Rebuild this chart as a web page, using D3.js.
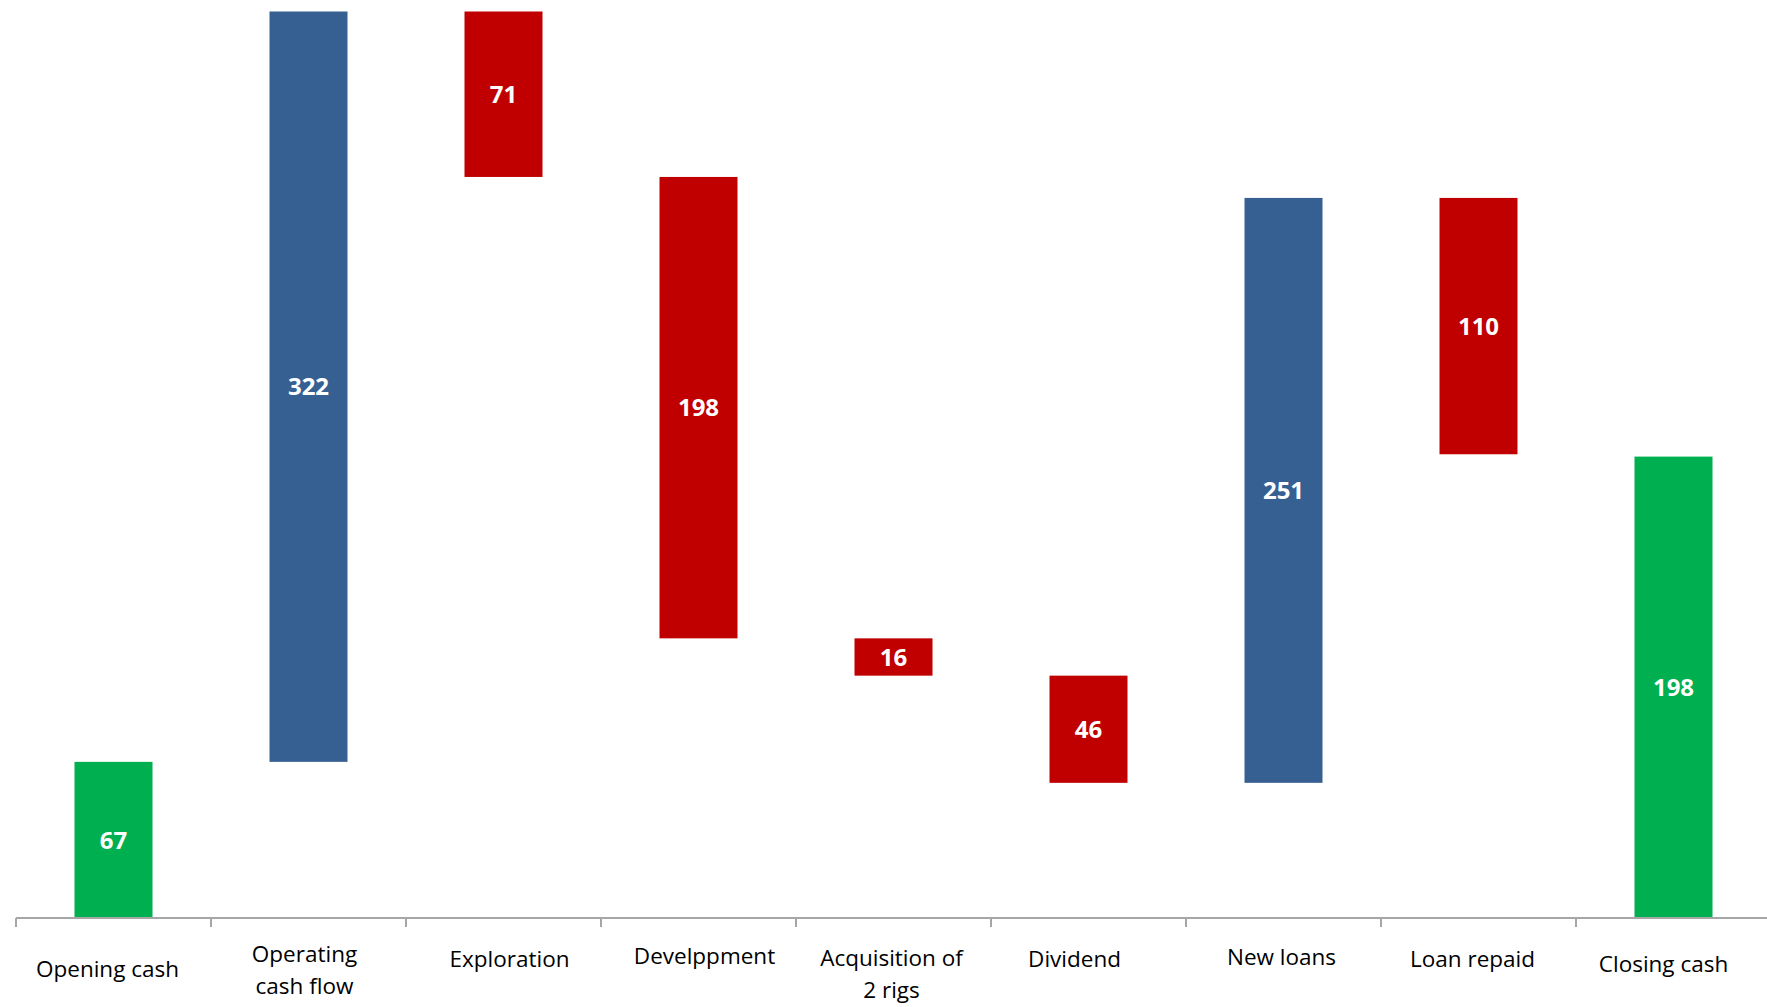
<!DOCTYPE html>
<html>
<head>
<meta charset="utf-8">
<script src="https://cdn.jsdelivr.net/npm/d3@7"></script>
<style>
  body { margin: 0; background: #fff; }
  svg { display: block; }
</style>
</head>
<body>
<svg class="chart"></svg>
<script>
// Categories (line breaks as in the original labels)
var categories = ["Opening cash", "Operating|cash flow", "Exploration", "Develppment",
                  "Acquisition of|2 rigs", "Dividend", "New loans", "Loan repaid", "Closing cash"];
// Signed movements; first and last are totals
var values = [67, 322, -71, -198, -16, -46, 251, -110, 198];
var kinds = ["total", "up", "down", "down", "down", "down", "up", "down", "total"];

// Label nudges relative to the band centre (layout only)
var labelDx = [-6, -4, 6, 6, -2, -14, -2, -6, -10];
var labelDy = [10, -4, 0, -3, 0, 0, -2, 0, 5];

(function(){
    var w = 1767, h = 1007;
    var baseY = 918;
    var colors = {total: "#00b050", up: "#366092", down: "#c00000"};

    var svg = d3.select(".chart").attr("width", w).attr("height", h);

    //Build the floating ranges
    var run = 0, bars = [];
    values.forEach(function(v, i){
        var lo, hi;
        if (kinds[i] == "total") { lo = 0; hi = v; run = v; }
        else if (v >= 0) { lo = run; hi = run + v; run = hi; }
        else { hi = run; lo = run + v; run = lo; }
        bars.push({name: categories[i], value: Math.abs(v), lo: lo, hi: hi, kind: kinds[i], i: i});
    });

    var x = d3.scaleBand()
        .domain(categories)
        .range([16, 1771])
        .paddingInner(0.6)
        .paddingOuter(0.3);

    var y = d3.scaleLinear()
        .domain([0, 389])
        .range([baseY, 11.5]);

    //Bars
    svg.append("g").selectAll("rect")
        .data(bars)
        .enter().append("rect")
        .attr("x", function(d){ return x(d.name); })
        .attr("y", function(d){ return y(d.hi); })
        .attr("width", x.bandwidth())
        .attr("height", function(d){ return y(d.lo) - y(d.hi); })
        .style("fill", function(d){ return colors[d.kind]; });

    //Value labels inside the bars
    svg.append("g").selectAll("text")
        .data(bars)
        .enter().append("text")
        .attr("x", function(d){ return x(d.name) + x.bandwidth() / 2; })
        .attr("y", function(d){ return (y(d.lo) + y(d.hi)) / 2; })
        .attr("dy", "0.36em")
        .attr("text-anchor", "middle")
        .style("font-family", "'Open Sans', sans-serif")
        .style("font-weight", "bold")
        .style("font-size", "24px")
        .style("fill", "#fff")
        .text(function(d){ return d.value; });

    //Axis with band-edge ticks
    var axis = svg.append("g");
    axis.append("line")
        .attr("x1", 16).attr("x2", w)
        .attr("y1", baseY).attr("y2", baseY)
        .style("stroke", "#a6a6a6").style("stroke-width", 2);
    axis.selectAll(".tick")
        .data(categories)
        .enter().append("line")
        .attr("x1", function(d){ return x(d) - x.step() * 0.3; })
        .attr("x2", function(d){ return x(d) - x.step() * 0.3; })
        .attr("y1", baseY).attr("y2", baseY + 9)
        .style("stroke", "#a6a6a6").style("stroke-width", 2);

    //Category labels
    var labels = svg.append("g").selectAll("text")
        .data(categories)
        .enter().append("text")
        .attr("text-anchor", "middle")
        .attr("transform", function(d, i){
            var lines = d.split("|").length;
            var cy = lines > 1 ? 966 : 967;
            return "translate(" + (x(d) + x.bandwidth() / 2 + labelDx[i]) + "," + (cy + labelDy[i]) + ")";
        })
        .style("font-family", "'Open Sans', sans-serif")
        .style("font-size", "22.5px")
        .style("fill", "#000");

    labels.selectAll("tspan")
        .data(function(d){ return d.split("|"); })
        .enter().append("tspan")
        .attr("x", 0)
        .attr("dy", function(d, j){ return j ? 32 : 0; })
        .text(function(d){ return d; });
})();
</script>
</body>
</html>
